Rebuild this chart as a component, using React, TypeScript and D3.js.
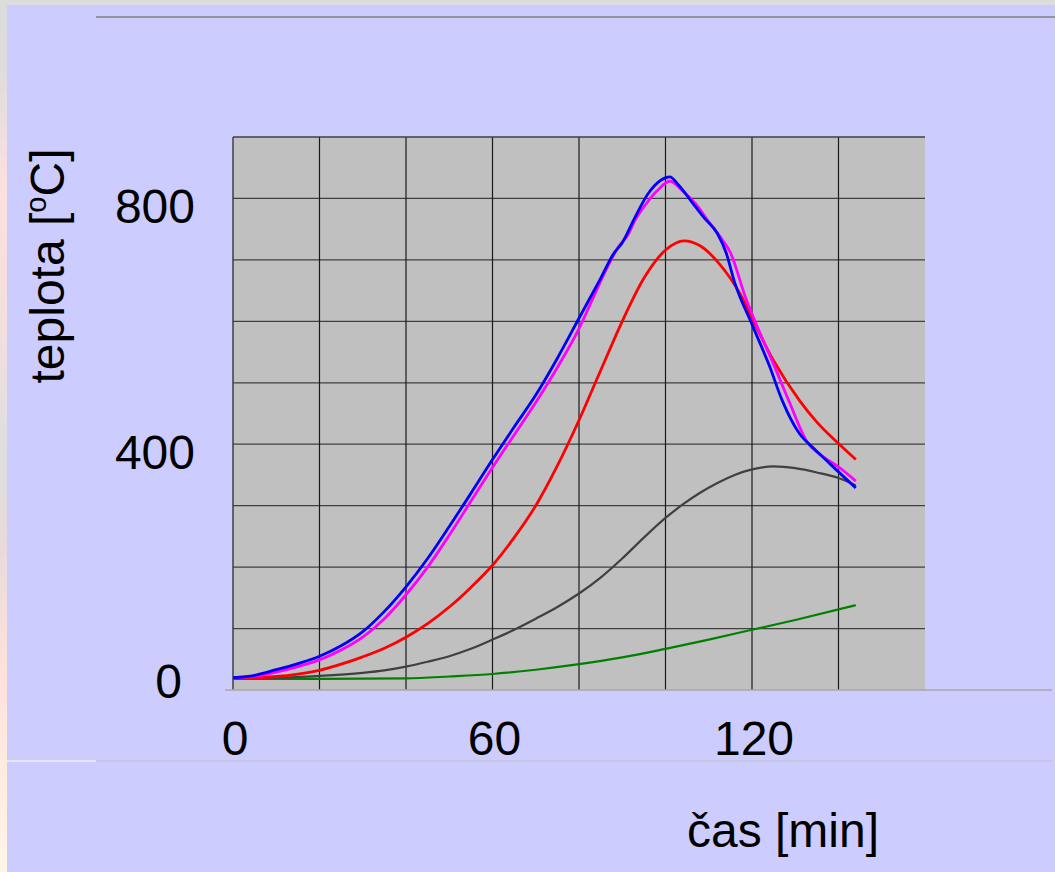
import React from "react";
import * as d3 from "d3";

const width = 1055;
const height = 872;
const plot = { left: 233, top: 137, right: 925, bottom: 690 };

// time [min], temperature [°C]
const blueSeries = [
  [0, 20], [5, 24], [10, 33], [15, 43], [20, 55], [25, 72], [30, 95], [35, 128],
  [40, 168], [45, 214], [50, 266], [55, 320], [60, 375], [65, 428], [70, 480],
  [75, 540], [80, 605], [85, 670], [88, 710], [90, 728], [93, 770], [96, 808],
  [99, 830], [101, 835], [103, 822], [106, 795], [109, 768], [112, 743], [114, 712],
  [116, 663], [120, 595], [124, 528], [127, 471], [131, 417], [134, 395], [137, 375],
  [140, 355], [144, 329],
];
const magentaSeries = [
  [0, 20], [5, 22], [10, 29], [15, 38], [20, 49], [25, 65], [30, 86], [35, 116],
  [40, 155], [45, 200], [50, 252], [55, 307], [60, 362], [65, 415], [70, 468],
  [75, 525], [80, 588], [83, 634], [86, 680], [89, 720], [91.5, 743], [93, 765],
  [95.5, 791], [98, 812], [101, 828], [104, 812], [107, 791], [110, 762], [113, 734],
  [115, 712], [118.5, 639], [121, 595], [125, 530], [128.5, 471], [133, 401],
  [136, 382], [140, 363], [144, 340],
];
const redSeries = [
  [0, 20], [5, 20], [10, 22], [15, 26], [20, 32], [25, 42], [30, 54], [35, 68],
  [40, 86], [45, 108], [50, 135], [55, 167], [60, 203], [65, 248], [70, 300],
  [75, 365], [80, 439], [85, 520], [90, 600], [95, 670], [100, 716], [104.3, 731],
  [108, 723], [112.4, 694], [115, 670], [117.7, 639], [120, 605], [125, 536],
  [131, 471], [135, 436], [140, 401], [144, 375],
];
const graySeries = [
  [0, 20], [10, 20], [20, 23], [30, 28], [35, 32], [40, 38], [45, 46], [50, 55],
  [55, 67], [60, 82], [65, 98], [70, 116], [75, 135], [80, 157], [85, 183], [90, 214],
  [95, 248], [100, 280], [104, 302], [108, 321], [112, 337], [116, 350], [120, 359],
  [125, 364], [130, 361], [135, 354], [140, 345], [144, 333],
];
const greenSeries = [
  [0, 18], [20, 18], [40, 19], [50, 22], [60, 26], [70, 33], [80, 42], [90, 53],
  [100, 67], [110, 82], [120, 98], [130, 114], [144, 138],
];

const seriesList = [
  { name: "green", data: greenSeries, color: "#008000", w: 2.2 },
  { name: "gray", data: graySeries, color: "#404040", w: 2.2 },
  { name: "red", data: redSeries, color: "#ff0000", w: 2.8 },
  { name: "magenta", data: magentaSeries, color: "#ff00ff", w: 2.8 },
  { name: "blue", data: blueSeries, color: "#0000ff", w: 2.8 },
];

const xTicks = [0, 60, 120];
const yTicks = [0, 400, 800];

const font = "'Liberation Sans', Arial, sans-serif";

const App = () => {
  const xScale = d3.scaleLinear().domain([0, 160]).range([plot.left, plot.right]);
  const yScale = d3.scaleLinear().domain([0, 900]).range([plot.bottom, plot.top]);

  const line = d3
    .line<number[]>()
    .x((d) => xScale(d[0]))
    .y((d) => yScale(d[1]))
    .curve(d3.curveMonotoneX);

  const vGrid = d3.range(20, 160, 20);
  const hGrid = d3.range(100, 900, 100);

  return (
    <svg
      width={width}
      height={height}
      style={{ position: "absolute", left: 0, top: 0 }}
      fontFamily={font}
    >
      <defs>
        <linearGradient id="edge" x1="0" y1="0" x2="0" y2="1">
          <stop offset="0" stopColor="#dcdcdc" />
          <stop offset="0.08" stopColor="#e0dcdc" />
          <stop offset="0.22" stopColor="#fde0e0" />
          <stop offset="0.38" stopColor="#f3dede" />
          <stop offset="0.52" stopColor="#dedede" />
          <stop offset="0.62" stopColor="#e8dada" />
          <stop offset="0.78" stopColor="#ffe2dc" />
          <stop offset="1" stopColor="#fff6e6" />
        </linearGradient>
      </defs>
      <rect x={0} y={0} width={width} height={height} fill="#dcdcdc" />
      <rect x={0} y={0} width={7} height={height} fill="url(#edge)" />
      <rect x={7} y={5} width={width - 7} height={height - 5} fill="#ccccff" />

      <line x1={96} x2={width} y1={17} y2={17} stroke="#808080" strokeWidth={1.5} />
      <line x1={7} x2={96} y1={761} y2={761} stroke="#ffffff" strokeWidth={1} />
      <line x1={96} x2={width - 2} y1={761} y2={761} stroke="#c0c0c0" strokeWidth={1.2} />

      {/* plot area */}
      <rect
        x={plot.left}
        y={plot.top}
        width={plot.right - plot.left}
        height={plot.bottom - plot.top}
        fill="#c0c0c0"
      />
      {hGrid.map((v) => (
        <line
          key={"h" + v}
          x1={plot.left}
          x2={plot.right}
          y1={yScale(v)}
          y2={yScale(v)}
          stroke="#404040"
          strokeWidth={1.3}
        />
      ))}
      {vGrid.map((v) => (
        <line
          key={"v" + v}
          x1={xScale(v)}
          x2={xScale(v)}
          y1={plot.top}
          y2={plot.bottom}
          stroke="#1a1a1a"
          strokeWidth={1.2}
        />
      ))}
      <line x1={plot.left} x2={plot.right} y1={plot.top} y2={plot.top} stroke="#404040" strokeWidth={1.5} />
      <line x1={plot.left} x2={plot.left} y1={plot.top} y2={plot.bottom} stroke="#404040" strokeWidth={1.5} />
      <line x1={225} x2={width - 3} y1={plot.bottom} y2={plot.bottom} stroke="#a8a8a8" strokeWidth={1.5} />

      {seriesList.map((s) => (
        <path
          key={s.name}
          d={line(s.data) || ""}
          fill="none"
          stroke={s.color}
          strokeWidth={s.w}
          strokeLinejoin="round"
        />
      ))}

      {/* tick labels */}
      {yTicks.map((v) => (
        <text
          key={"yt" + v}
          x={v === 0 ? 182 : 195}
          y={v === 0 ? yScale(v) + 8 : yScale(v) + 25}
          textAnchor="end"
          fontSize={48}
          fill="#000"
        >
          {v}
        </text>
      ))}
      {xTicks.map((v) => (
        <text
          key={"xt" + v}
          x={xScale(v) + 2}
          y={755}
          textAnchor="middle"
          fontSize={48}
          fill="#000"
        >
          {v}
        </text>
      ))}

      <text x={687} y={847} fontSize={48} fill="#000">
        čas [min]
      </text>
      <text
        transform="translate(64,266) rotate(-90)"
        textAnchor="middle"
        fontSize={48}
        fill="#000"
      >
        teplota [
        <tspan fontSize={29} dy={-18}>o</tspan>
        <tspan dy={18}>C]</tspan>
      </text>
    </svg>
  );
};

export default App;
